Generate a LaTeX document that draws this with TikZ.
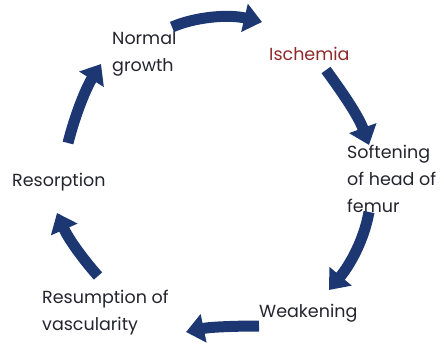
\documentclass[tikz,border=0pt]{standalone}
\usepackage{fontspec}
\setmainfont{Poppins}
\usetikzlibrary{arrows.meta}
\definecolor{navy}{HTML}{1C3772}
\definecolor{ischred}{HTML}{8E2A2A}
\definecolor{ink}{HTML}{24242E}
\begin{document}
\begin{tikzpicture}[x=1pt,y=-1pt,
  lbl/.style={font=\fontsize{17.5}{27}\selectfont, text=ink, align=left, inner sep=0pt},
  cyc/.style={draw=navy, line width=11pt, -{Triangle[width=28pt,length=18pt]}}]
\useasboundingbox (0,0) rectangle (440,343);
\node[lbl, anchor=west] (normal) at (112,54) {Normal\\growth};
\node[lbl, anchor=west, text=ischred] (isch) at (269,54) {Ischemia};
\node[lbl, anchor=west] (soft) at (347,179) {Softening\\of head of\\femur};
\node[lbl, anchor=west] (weak) at (259,313) {Weakening};
\node[lbl, anchor=west] (resum) at (42,313) {Resumption of\\vascularity};
\node[lbl, anchor=west] (resorp) at (12,182) {Resorption};
\coordinate (a1s) at (172,27); \coordinate (a1e) at (262,22);
\coordinate (a2s) at (326,70); \coordinate (a2e) at (369,145);
\coordinate (a3s) at (369,212); \coordinate (a3e) at (329,290);
\coordinate (a4s) at (259,326); \coordinate (a4e) at (186,332);
\coordinate (a5s) at (98,276); \coordinate (a5e) at (57,213);
\coordinate (a6s) at (68,143); \coordinate (a6e) at (101,64);
\draw[cyc] (a1s) .. controls (195,17) and (228,14) .. (a1e);
\draw[cyc] (a2s) .. controls (342,92) and (358,115) .. (a2e);
\draw[cyc] (a3s) .. controls (364,240) and (350,265) .. (a3e);
\draw[cyc] (a4s) .. controls (235,326) and (210,327) .. (a4e);
\draw[cyc] (a5s) .. controls (82,258) and (68,238) .. (a5e);
\draw[cyc] (a6s) .. controls (75,115) and (86,88) .. (a6e);
\end{tikzpicture}
\end{document}
